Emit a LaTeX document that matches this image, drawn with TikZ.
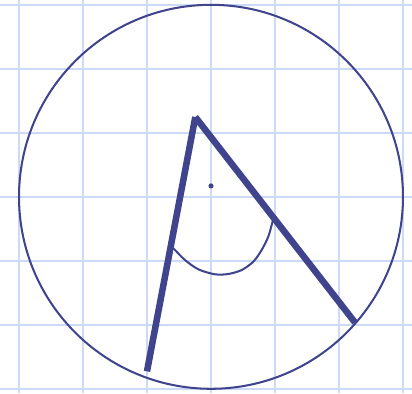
\documentclass[tikz,border=0pt]{standalone}
\usepackage{xcolor,tikz}
\definecolor{ink}{HTML}{3F448C}
\definecolor{gridblue}{HTML}{CCDAF8}

\begin{document}
\begin{tikzpicture}[line cap=butt]
\tikzset{gridline/.style={draw=gridblue,line width=0.8pt},
  rim/.style={draw=ink,line width=0.9pt},
  arm/.style={draw=ink,line width=2.9pt},
  anglemark/.style={draw=ink,line width=0.9pt}}
\useasboundingbox (-3.297,-3.066) rectangle (3.141,3.075);
\fill[white] (-3.297,-3.066) rectangle (3.141,3.075);
\draw[gridline] (-3.297,-3.066) grid (3.141,3.075);
\coordinate (O) at (0,0);
\coordinate (M) at (0,0.17);
\coordinate (P) at (-0.245,1.247);
\coordinate (Q) at (-1.0,-2.727);
\coordinate (R) at (2.25,-1.964);
\draw[rim] (O) circle (3);
% angle mark between the two arms
\draw[anglemark] plot[smooth] coordinates {(-0.62,-0.775) (-0.573,-0.820) (-0.406,-0.988)
  (-0.198,-1.133) (0.0625,-1.211) (0.270,-1.206) (0.480,-1.144) (0.661,-1.014)
  (0.792,-0.831) (0.895,-0.623) (0.948,-0.441) (0.98,-0.33)};
\draw[arm] (P) -- (Q);
\draw[arm] (P) -- (R);
\fill[ink] (M) circle (0.04);
\end{tikzpicture}
\end{document}
